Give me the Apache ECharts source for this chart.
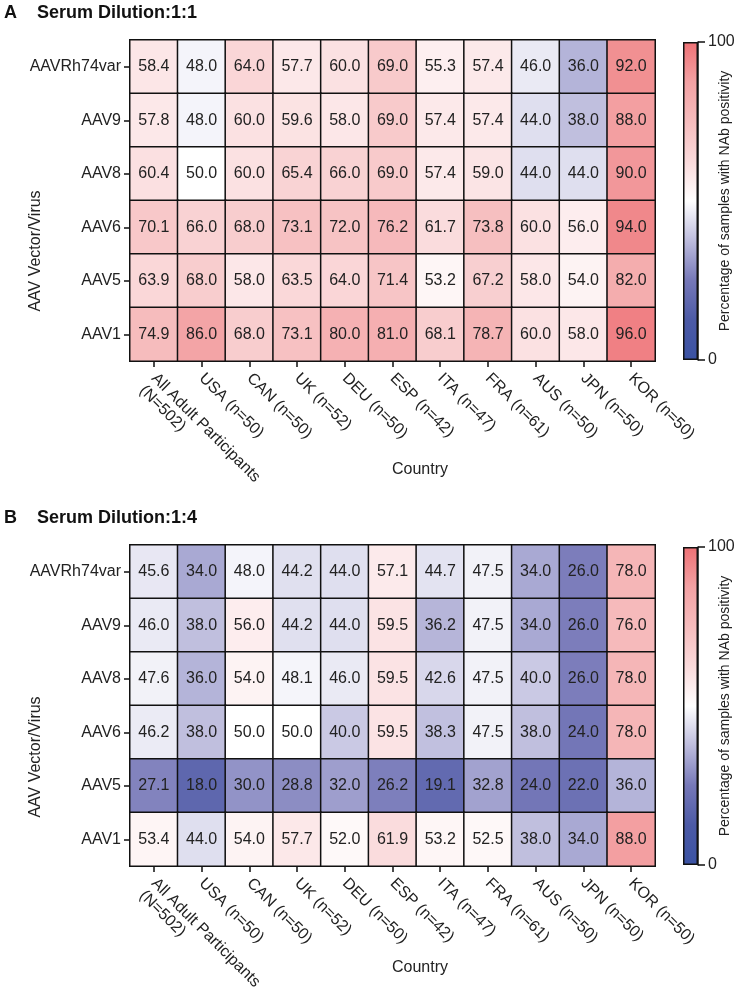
<!DOCTYPE html>
<html>
<head>
<meta charset="utf-8">
<script src="https://cdn.jsdelivr.net/npm/echarts@6/dist/echarts.min.js"></script>
<style>
  html, body { margin: 0; padding: 0; background: #fff; }
  #chart { width: 736px; height: 999px; }
</style>
</head>
<body>
<div id="chart"></div>
<script>
// ---------- DATA ----------
const countries = ['All Adult Participants\n(N=502)', 'USA (n=50)', 'CAN (n=50)', 'UK (n=52)', 'DEU (n=50)',
  'ESP (n=42)', 'ITA (n=47)', 'FRA (n=61)', 'AUS (n=50)', 'JPN (n=50)', 'KOR (n=50)'];
const vectors = ['AAVRh74var', 'AAV9', 'AAV8', 'AAV6', 'AAV5', 'AAV1'];

// Panel A: Serum dilution 1:1 (rows follow `vectors`, columns follow `countries`)
const dilA_AAVRh74var = [58.4, 48.0, 64.0, 57.7, 60.0, 69.0, 55.3, 57.4, 46.0, 36.0, 92.0];
const dilA_AAV9       = [57.8, 48.0, 60.0, 59.6, 58.0, 69.0, 57.4, 57.4, 44.0, 38.0, 88.0];
const dilA_AAV8       = [60.4, 50.0, 60.0, 65.4, 66.0, 69.0, 57.4, 59.0, 44.0, 44.0, 90.0];
const dilA_AAV6       = [70.1, 66.0, 68.0, 73.1, 72.0, 76.2, 61.7, 73.8, 60.0, 56.0, 94.0];
const dilA_AAV5       = [63.9, 68.0, 58.0, 63.5, 64.0, 71.4, 53.2, 67.2, 58.0, 54.0, 82.0];
const dilA_AAV1       = [74.9, 86.0, 68.0, 73.1, 80.0, 81.0, 68.1, 78.7, 60.0, 58.0, 96.0];

// Panel B: Serum dilution 1:4
const dilB_AAVRh74var = [45.6, 34.0, 48.0, 44.2, 44.0, 57.1, 44.7, 47.5, 34.0, 26.0, 78.0];
const dilB_AAV9       = [46.0, 38.0, 56.0, 44.2, 44.0, 59.5, 36.2, 47.5, 34.0, 26.0, 76.0];
const dilB_AAV8       = [47.6, 36.0, 54.0, 48.1, 46.0, 59.5, 42.6, 47.5, 40.0, 26.0, 78.0];
const dilB_AAV6       = [46.2, 38.0, 50.0, 50.0, 40.0, 59.5, 38.3, 47.5, 38.0, 24.0, 78.0];
const dilB_AAV5       = [27.1, 18.0, 30.0, 28.8, 32.0, 26.2, 19.1, 32.8, 24.0, 22.0, 36.0];
const dilB_AAV1       = [53.4, 44.0, 54.0, 57.7, 52.0, 61.9, 53.2, 52.5, 38.0, 34.0, 88.0];

const colorbarTicks = [0, 100];

// ---------- STYLE ----------
const FONT = '"Liberation Sans", Arial, Helvetica, sans-serif';
const TXT = '#222';
// colour ramp from 0 (blue) through 50 (white) to 100 (red)
const ramp = ['#3a52a3', '#4c5aa6', '#7678b8', '#bdbcdd', '#ffffff', '#fadadb', '#f6bcbd', '#f3a1a3', '#ee7175'];

function toCells(rows) {
  const out = [];
  rows.forEach((row, i) => row.forEach((v, j) => out.push([j, i, v])));
  return out;
}
const cellsA = toCells([dilA_AAVRh74var, dilA_AAV9, dilA_AAV8, dilA_AAV6, dilA_AAV5, dilA_AAV1]);
const cellsB = toCells([dilB_AAVRh74var, dilB_AAV9, dilB_AAV8, dilB_AAV6, dilB_AAV5, dilB_AAV1]);

const gridBase = { containLabel: false, outerBoundsMode: 'none' };
const grids = [
  Object.assign({ left: 130, top: 40, width: 525, height: 321 }, gridBase),
  Object.assign({ left: 130, top: 545, width: 525, height: 321 }, gridBase),
  Object.assign({ left: 683, top: 42, width: 15, height: 318 }, gridBase),
  Object.assign({ left: 683, top: 547, width: 15, height: 318 }, gridBase)
];

function heatX(gi) {
  return {
    type: 'category', gridIndex: gi, data: countries,
    axisLine: { show: true, lineStyle: { color: '#111', width: 1.5 } },
    axisTick: { show: true, alignWithLabel: true, length: 6, lineStyle: { color: '#111', width: 1.5 } },
    axisLabel: {
      rotate: -45, margin: 15, fontSize: 16, color: TXT, fontFamily: FONT, interval: 0, lineHeight: 17,
      // keep the first line of a two-line label on the tick, like the single-line ones
      formatter: v => (v.indexOf('\n') >= 0 ? '\n' + v : v)
    },
    splitArea: { show: false }
  };
}
function heatY(gi) {
  return {
    type: 'category', gridIndex: gi, data: vectors, inverse: true,
    axisLine: { show: true, lineStyle: { color: '#111', width: 1.5 } },
    axisTick: { show: true, alignWithLabel: true, length: 6, lineStyle: { color: '#111', width: 1.5 } },
    axisLabel: { margin: 9, fontSize: 16, color: TXT, fontFamily: FONT }
  };
}
function cbX(gi) {
  return { type: 'category', gridIndex: gi, data: [''], show: false };
}
function cbY(gi) {
  return {
    type: 'value', gridIndex: gi, position: 'right', min: colorbarTicks[0], max: colorbarTicks[1], interval: 100,
    axisLine: { show: true, lineStyle: { color: '#111', width: 1.5 } },
    axisTick: { show: true, length: 7, inside: false, lineStyle: { color: '#111', width: 1.5 } },
    axisLabel: { margin: 10, fontSize: 16, color: TXT, fontFamily: FONT },
    splitLine: { show: false },
    name: 'Percentage of samples with NAb positivity', nameLocation: 'middle', nameRotate: 90, nameGap: 20,
    nameMoveOverlap: false,
    nameTextStyle: { fontSize: 14, color: TXT, fontFamily: FONT }
  };
}
function heatSeries(gi, data) {
  return {
    type: 'heatmap', xAxisIndex: gi, yAxisIndex: gi, data: data,
    label: { show: true, fontSize: 16, color: TXT, fontFamily: FONT, formatter: p => p.value[2].toFixed(1) },
    itemStyle: { borderColor: '#111', borderWidth: 1.5 },
    emphasis: { disabled: true }
  };
}
const gradStops = ramp.map((c, i) => ({ offset: 1 - i / (ramp.length - 1), color: c }));
function cbSeries(gi) {
  return {
    type: 'bar', xAxisIndex: gi, yAxisIndex: gi, data: [colorbarTicks[1]], barWidth: '100%',
    itemStyle: {
      color: new echarts.graphic.LinearGradient(0, 0, 0, 1, gradStops.slice().reverse()),
      borderColor: '#111', borderWidth: 1.5
    },
    silent: true, animation: false
  };
}

const chart = echarts.init(document.getElementById('chart'), null, { renderer: 'canvas' });
chart.setOption({
  animation: false,
  backgroundColor: '#fff',
  textStyle: { fontFamily: FONT },
  grid: grids,
  xAxis: [heatX(0), heatX(1), cbX(2), cbX(3)],
  yAxis: [heatY(0), heatY(1), cbY(2), cbY(3)],
  visualMap: {
    type: 'continuous', show: false, min: 0, max: 100, seriesIndex: [0, 1], dimension: 2,
    inRange: { color: ramp }
  },
  series: [heatSeries(0, cellsA), heatSeries(1, cellsB), cbSeries(2), cbSeries(3)],
  graphic: [
    { type: 'text', x: 4, y: 13, style: { text: 'A', font: 'bold 18px ' + FONT, fill: '#111', textVerticalAlign: 'middle' } },
    { type: 'text', x: 37, y: 13, style: { text: 'Serum Dilution:1:1', font: 'bold 18px ' + FONT, fill: '#111', textVerticalAlign: 'middle' } },
    { type: 'text', x: 4, y: 518, style: { text: 'B', font: 'bold 18px ' + FONT, fill: '#111', textVerticalAlign: 'middle' } },
    { type: 'text', x: 37, y: 518, style: { text: 'Serum Dilution:1:4', font: 'bold 18px ' + FONT, fill: '#111', textVerticalAlign: 'middle' } },
    { type: 'text', x: 36, y: 251, rotation: Math.PI / 2, style: { text: 'AAV Vector/Virus', font: '16px ' + FONT, fill: TXT, textAlign: 'center', textVerticalAlign: 'middle' } },
    { type: 'text', x: 36, y: 757, rotation: Math.PI / 2, style: { text: 'AAV Vector/Virus', font: '16px ' + FONT, fill: TXT, textAlign: 'center', textVerticalAlign: 'middle' } },
    { type: 'text', x: 420, y: 470, style: { text: 'Country', font: '16px ' + FONT, fill: TXT, textAlign: 'center', textVerticalAlign: 'middle' } },
    { type: 'text', x: 420, y: 968, style: { text: 'Country', font: '16px ' + FONT, fill: TXT, textAlign: 'center', textVerticalAlign: 'middle' } }
  ]
});
</script>
</body>
</html>
